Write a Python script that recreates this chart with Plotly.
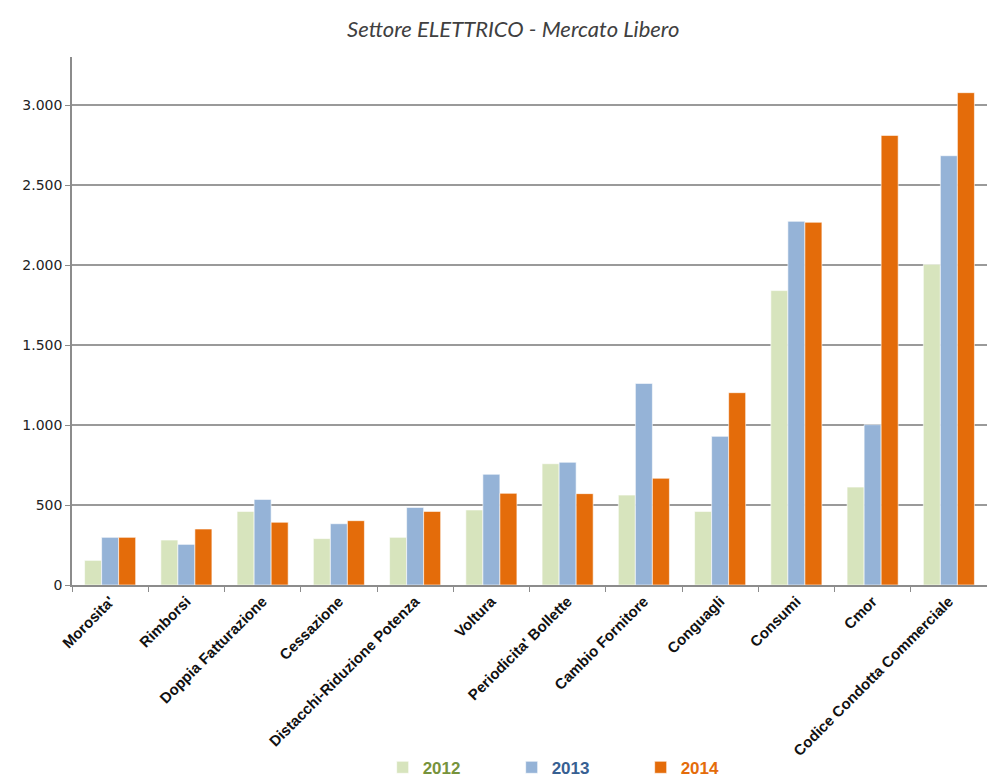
import plotly.graph_objects as go

categories = ["Morosita'", "Rimborsi", "Doppia Fatturazione", "Cessazione",
              "Distacchi-Riduzione Potenza", "Voltura", "Periodicita' Bollette",
              "Cambio Fornitore", "Conguagli", "Consumi", "Cmor",
              "Codice Condotta Commerciale"]
v2012 = [154, 281, 460, 290, 298, 469, 758, 562, 460, 1840, 612, 2004]
v2013 = [298, 254, 535, 383, 485, 692, 767, 1260, 929, 2273, 1002, 2683]
v2014 = [298, 350, 392, 402, 460, 573, 571, 667, 1202, 2267, 2810, 3077]
years = ["2012", "2013", "2014"]
bar_colors = ["#d7e4bd", "#95b3d7", "#e46c0a"]
text_colors = ["#77933c", "#376092", "#e46c0a"]

fig = go.Figure()
for yr, vals, bc, tc in zip(years, [v2012, v2013, v2014], bar_colors, text_colors):
    fig.add_trace(go.Bar(
        x=categories, y=vals,
        name=f"<span style='color:{tc}'><b>{yr}</b></span>",
        marker=dict(color=bc, line=dict(color="white", width=0.6)),
    ))

fig.update_layout(
    width=987, height=781,
    margin=dict(l=72, r=0, t=57, b=196, autoexpand=False),
    paper_bgcolor="white", plot_bgcolor="white",
    barmode="group", bargap=0.33, bargroupgap=0,
    separators=",.",
    title=dict(text="<i>Settore ELETTRICO - Mercato Libero</i>",
               x=0.52, xanchor="center", y=0.962, yanchor="middle",
               font=dict(family="Lato", size=22, color="#404040")),
    showlegend=True,
    legend=dict(orientation="h", x=0.551, xanchor="center", y=-0.312, yanchor="top",
                font=dict(family="Liberation Sans", size=17),
                entrywidth=84, entrywidthmode="pixels",
                itemwidth=30, traceorder="normal"),
    font=dict(family="DejaVu Sans", color="#222222"),
)

fig.update_xaxes(
    type="category",
    tickangle=-45,
    tickfont=dict(family="Liberation Sans", size=15, color="#111111", weight="bold"),
    tickson="boundaries", ticks="outside", ticklen=5, tickcolor="#8c8c8c",
    showline=True, linecolor="#8c8c8c", linewidth=1.5,
    showgrid=False,
)
fig.update_yaxes(
    range=[0, 3300], dtick=500, tickformat=",d",
    tickfont=dict(family="DejaVu Sans", size=14, color="#222222"),
    ticks="outside", ticklen=5, tickcolor="#8c8c8c",
    showline=True, linecolor="#8c8c8c", linewidth=1.5,
    showgrid=True, gridcolor="#9a9a9a", gridwidth=1.5,
    zeroline=False,
)

fig.write_html("out.html")
